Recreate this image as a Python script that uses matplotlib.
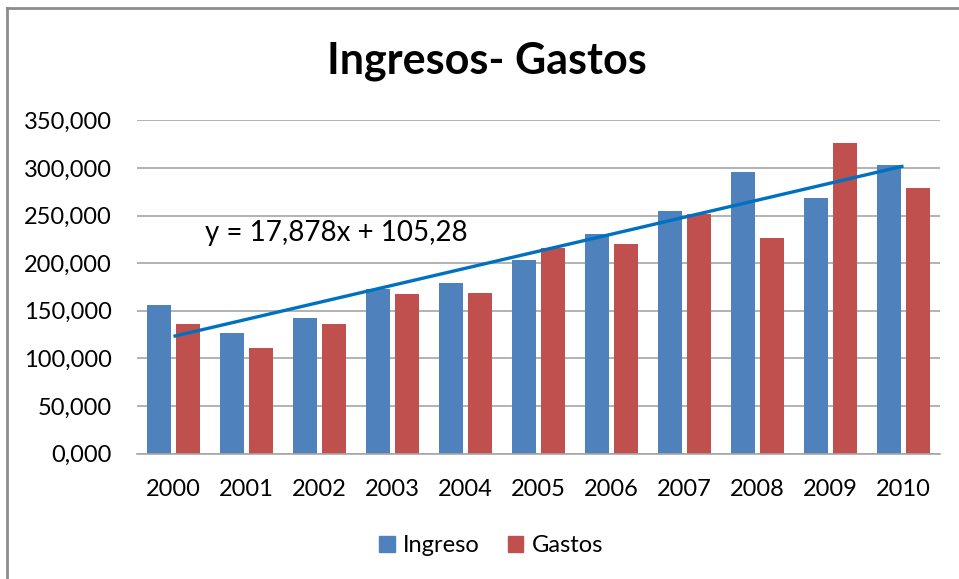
import numpy as np
import matplotlib
matplotlib.use("Agg")
import matplotlib.pyplot as plt
from matplotlib.lines import Line2D
from matplotlib.patches import Patch

# ---- data ----
years = ["2000", "2001", "2002", "2003", "2004", "2005",
         "2006", "2007", "2008", "2009", "2010"]
ingreso = [156.4, 127.0, 142.8, 172.6, 179.2, 203.3,
           230.3, 254.8, 295.4, 268.1, 303.1]
gastos = [136.2, 110.6, 136.2, 167.3, 168.7, 215.9,
          219.8, 251.3, 226.7, 326.2, 278.9]
y_ticks = [0, 50, 100, 150, 200, 250, 300, 350]
y_tick_labels = ["0,000", "50,000", "100,000", "150,000",
                 "200,000", "250,000", "300,000", "350,000"]
# linear trendline printed on the chart: y = 17,878x + 105,28 (x = 1..11)
trend_slope = 17.878
trend_intercept = 105.28
trend_label = "y = 17,878x + 105,28"

BLUE = "#4F81BD"
RED = "#C0504D"
TREND = "#0070C0"
GRID = "#A6A6A6"

plt.rcParams["font.family"] = ["Lato", "DejaVu Sans"]

fig = plt.figure(figsize=(9.59, 5.79), dpi=100)
ax = fig.add_axes([137 / 959, 1 - 453.7 / 579, (940 - 137) / 959, 333.4 / 579])

x = np.arange(len(years))
w = 0.33
off = 0.2
ax.bar(x - off, ingreso, width=w, color=BLUE, label="Ingreso", zorder=2)
ax.bar(x + off, gastos, width=w, color=RED, label="Gastos", zorder=2)

# trendline over the Ingreso series, drawn at category centres
tx = np.array([1, len(years)])
ax.plot(tx - 1, trend_slope * tx + trend_intercept, color=TREND, lw=2.4,
        solid_capstyle="butt", zorder=3)
ax.text(0.43, 232, trend_label, fontsize=20, va="center", ha="left",
        color="#000000", zorder=4)

ax.set_xlim(-0.5, len(years) - 0.5)
ax.set_ylim(0, 350)
ax.set_yticks(y_ticks)
ax.set_yticklabels(y_tick_labels)
ax.set_xticks(x)
ax.set_xticklabels(years)
ax.tick_params(axis="both", length=0, labelsize=17, colors="#000000")
ax.tick_params(axis="y", pad=18)
ax.tick_params(axis="x", pad=18)
ax.yaxis.grid(True, color=GRID, lw=1.2, zorder=0)
ax.set_axisbelow(True)
for side in ["top", "right", "left"]:
    ax.spines[side].set_visible(False)
ax.spines["bottom"].set_color(GRID)
ax.spines["bottom"].set_linewidth(1.2)

fig.text(0.508, 1 - 61 / 579, "Ingresos- Gastos", fontsize=31,
         fontweight="bold", ha="center", va="center")

handles = [Patch(color=BLUE, label="Ingreso"), Patch(color=RED, label="Gastos")]
fig.legend(handles=handles, loc="center", bbox_to_anchor=(491 / 959, 1 - 546 / 579),
           ncol=2, frameon=False, fontsize=17, handlelength=0.65,
           handleheight=0.65, handletextpad=0.35, columnspacing=1.2)

# chart frame (only top and left edges are visible in the crop)
fig.add_artist(Line2D([7 / 959, 1], [1 - 8 / 579, 1 - 8 / 579],
                      color="#8C8C8C", lw=2, transform=fig.transFigure))
fig.add_artist(Line2D([7 / 959, 7 / 959], [0, 1 - 8 / 579],
                      color="#8C8C8C", lw=2, transform=fig.transFigure))

fig.savefig("out.png", dpi=100)
